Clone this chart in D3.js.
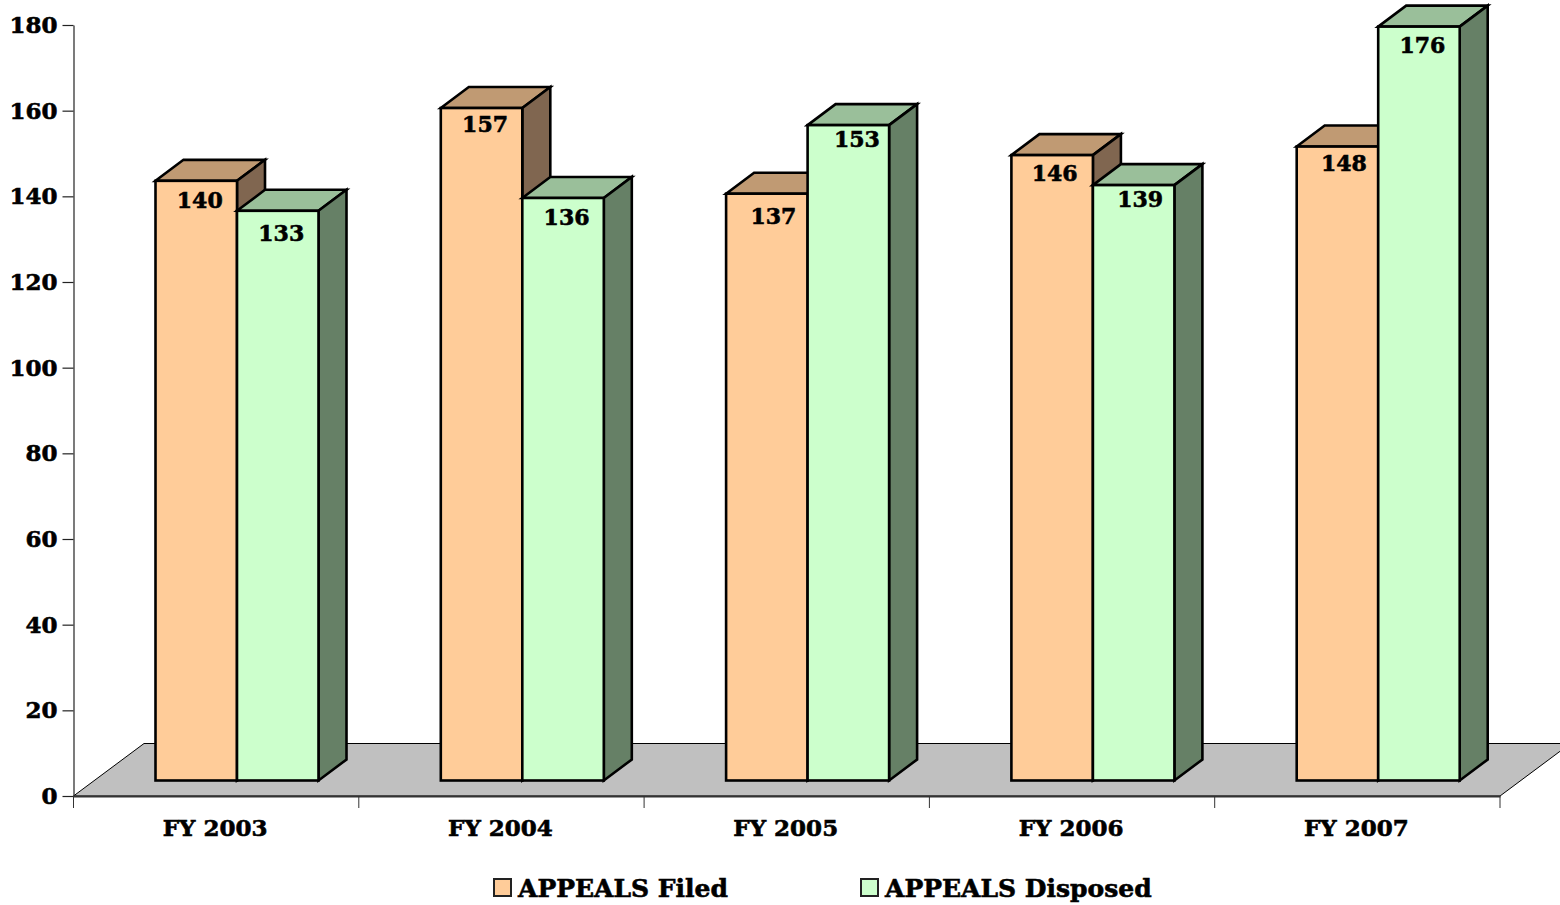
<!DOCTYPE html>
<html><head><meta charset="utf-8">
<script src="https://cdn.jsdelivr.net/npm/d3@7"></script>
<style>
html,body{margin:0;padding:0;background:#fff;overflow:hidden}
svg{display:block}
text{font-family:"DejaVu Serif",serif;font-weight:bold;fill:#000;stroke:#000;stroke-width:0.6px}
</style></head><body><svg id="c" width="1560" height="905"></svg>
<script>
const categories=["FY 2003","FY 2004","FY 2005","FY 2006","FY 2007"];
const seriesNames=["APPEALS Filed","APPEALS Disposed"];
const filed=[140,157,137,146,148];
const disposed=[133,136,153,139,176];
const yTicks=[0,20,40,60,80,100,120,140,160,180];
const front=["#FFCC99","#CCFFCC"], topC=["#C09A73","#9ABF9A"], sideC=["#806650","#668066"];
const seriesValues=[filed,disposed];
// hand-placed label nudges in the source chart (px), by series then category
const nudgeX=[[0,0,3,-1,3],[0,0,5,3,0]];
const nudgeY=[[1,-2,4,0,-2],[4,1,-4,-4,0]];

const svg=d3.select("#c");
const L=73.5,R=1500,Y0=796,Y1=25;
const y=d3.scaleLinear().domain([0,180]).range([Y0,Y1]);
const x=d3.scaleBand().domain(categories).range([L,R]);
const sub=d3.scaleBand().domain(seriesNames).range([82,245]);
const dx=28,dy=21,lift=15.5, fx=70.5, fy=52.5;

svg.append("path").attr("d",`M${L},${Y0}L${L+fx},${Y0-fy}L${R+fx},${Y0-fy}L${R},${Y0}Z`)
  .attr("fill","#C0C0C0").attr("stroke","#000").attr("stroke-width",1);

const gy=svg.append("g").attr("transform",`translate(${L},0)`)
  .call(d3.axisLeft(y).tickValues(yTicks).tickSize(11).tickPadding(5).tickSizeOuter(0));
const gx=svg.append("g").attr("transform",`translate(0,${Y0})`)
  .call(d3.axisBottom(x).tickSize(0).tickPadding(0));
gx.selectAll(".tick line").remove();
gx.selectAll(".tick text").remove();
gx.select(".domain").attr("stroke","#333").attr("stroke-width",2);
gy.select(".domain").attr("stroke","#222").attr("stroke-width",1.2);
gy.selectAll(".tick line").attr("stroke","#222").attr("stroke-width",1.2);
gy.selectAll("text").attr("font-size",23).attr("fill","#000").attr("font-family",'"DejaVu Serif",serif').attr("font-weight","bold");
const edges=categories.map(c=>x(c)).concat([R]);
svg.selectAll("line.xt").data(edges).join("line").attr("class","xt")
  .attr("x1",d=>d).attr("x2",d=>d).attr("y1",Y0).attr("y2",Y0+12).attr("stroke","#333").attr("stroke-width",1);
svg.selectAll("text.cat").data(categories).join("text").attr("class","cat")
  .attr("x",c=>x(c)+x.bandwidth()/2-1).attr("y",836).attr("text-anchor","middle").attr("font-size",23).text(c=>c);

const sw=2.6;
categories.forEach((c,i)=>{
  seriesNames.forEach((s,k)=>{
    const v=seriesValues[k][i];
    const x0=x(c)+sub(s), x1=x0+sub.bandwidth(), yb=Y0-lift, yt=y(v)-lift;
    const g=svg.append("g").attr("stroke","#000").attr("stroke-width",sw).attr("stroke-linejoin","miter");
    g.append("path").attr("d",`M${x0},${yt}L${x0+dx},${yt-dy}L${x1+dx},${yt-dy}L${x1},${yt}Z`).attr("fill",topC[k]);
    g.append("path").attr("d",`M${x1},${yt}L${x1+dx},${yt-dy}L${x1+dx},${yb-dy}L${x1},${yb}Z`).attr("fill",sideC[k]);
    g.append("rect").attr("x",x0).attr("y",yt).attr("width",x1-x0).attr("height",yb-yt).attr("fill",front[k]);
  });
});
categories.forEach((c,i)=>{
  seriesNames.forEach((s,k)=>{
    const v=seriesValues[k][i];
    svg.append("text").attr("x",x(c)+sub(s)+sub.bandwidth()/2+3.5+nudgeX[k][i]).attr("y",y(v)-lift+26+nudgeY[k][i])
      .attr("text-anchor","middle").attr("font-size",22).text(v);
  });
});

const legendX=[494,861];
seriesNames.forEach((s,k)=>{
  svg.append("rect").attr("x",legendX[k]).attr("y",879).attr("width",17).attr("height",17)
    .attr("fill",front[k]).attr("stroke","#222").attr("stroke-width",2);
  svg.append("text").attr("x",legendX[k]+24).attr("y",897).attr("font-size",25).text(s);
});
</script></body></html>
